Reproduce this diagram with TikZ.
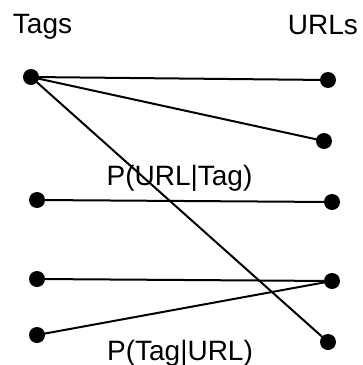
\documentclass[tikz,border=0pt]{standalone}
\usepackage{fontspec}
\setmainfont{Liberation Sans}
\begin{document}
\begin{tikzpicture}[x=1pt,y=-1pt,
  dot/.style={circle,fill=black,inner sep=0pt,minimum size=16pt},
  lbl/.style={inner sep=0pt,anchor=base,font=\fontsize{28}{30}\selectfont},
  link/.style={line width=2pt,black}]
\useasboundingbox (0,0) rectangle (363,365);
\node[lbl] (tags) at (42.5,33) {Tags};
\node[lbl] (urls) at (323,34) {URLs};
\node[dot] (l1) at (31,77) {};
\node[dot] (l2) at (37,200) {};
\node[dot] (l3) at (37,279) {};
\node[dot] (l4) at (37,335) {};
\node[dot] (r1) at (328,80) {};
\node[dot] (r2) at (324,141) {};
\node[dot] (r3) at (332,202) {};
\node[dot] (r4) at (332,281) {};
\node[dot] (r5) at (328,342) {};
\draw[link] (l1.center) -- (r1.center);
\draw[link] (l1.center) -- (r2.center);
\draw[link] (l1.center) -- (r5.center);
\draw[link] (l2.center) -- (r3.center);
\draw[link] (l3.center) -- (r4.center);
\draw[link] (l4.center) -- (r4.center);
\node[lbl] (put) at (179.5,185) {P(URL|Tag)};
\node[lbl] (ptu) at (180,360) {P(Tag|URL)};
\end{tikzpicture}
\end{document}
